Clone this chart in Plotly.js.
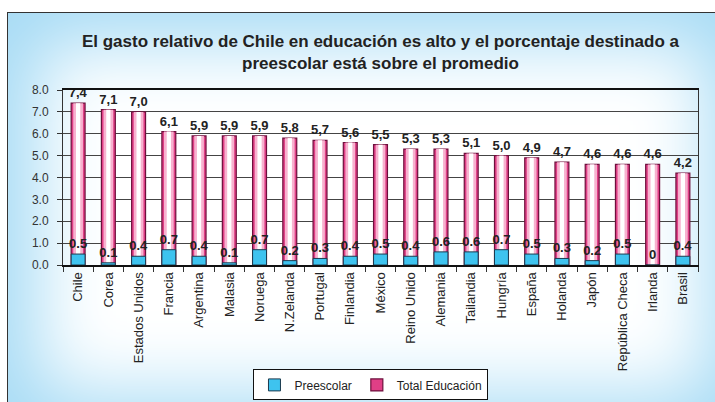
<!DOCTYPE html>
<html>
<head>
<meta charset="utf-8">
<script src="https://cdn.plot.ly/plotly-3.0.1.min.js"></script>
<style>
  html, body { margin: 0; padding: 0; background: #fff; }
  #frame {
    position: absolute; left: 7px; top: 12px; width: 730px; height: 410px;
    border: 1px solid #333; background: #fff;
    box-shadow: inset 0 0 75px 30px #a6dbf5;
  }
  #plotDiv { position: absolute; left: 0; top: 0; width: 715px; height: 402px; }
</style>
</head>
<body>
<div id="frame"></div>
<div id="plotDiv"></div>
<script>
// Paises
let paises = ['Chile', 'Corea', 'Estados Unidos', 'Francia', 'Argentina', 'Malasia', 'Noruega',
  'N.Zelanda', 'Portugal', 'Finlandia', 'México', 'Reino Unido', 'Alemania', 'Tailandia',
  'Hungría', 'España', 'Holanda', 'Japón', 'República Checa', 'Irlanda', 'Brasil'];
// Gasto total en educación (% PIB)
let totalEducacion = [7.4, 7.1, 7.0, 6.1, 5.9, 5.9, 5.9, 5.8, 5.7, 5.6, 5.5, 5.3, 5.3, 5.1,
  5.0, 4.9, 4.7, 4.6, 4.6, 4.6, 4.2];
// Gasto en preescolar
let preescolar = [0.5, 0.1, 0.4, 0.7, 0.4, 0.1, 0.7, 0.2, 0.3, 0.4, 0.5, 0.4, 0.6, 0.6,
  0.7, 0.5, 0.3, 0.2, 0.5, 0, 0.4];

let textTotal = totalEducacion.map(v => v.toFixed(1).replace('.', ','));
let textPre = preescolar.map(v => String(v));

let fuente = 'Liberation Sans, Arial, sans-serif';

// Barra total (fondo rosado)
var trace1 = {
    x: paises, y: totalEducacion, type: 'bar', name: 'Total Educación',
    width: 0.46,
    marker: {color: '#e03f86', line: {color: '#6e0f3c', width: 1.2}},
    text: textTotal, textposition: 'outside', cliponaxis: false, constraintext: 'none',
    textfont: {family: fuente, size: 13, color: '#222', weight: 'bold'},
    hoverinfo: 'x+y'
};
// Franjas claras para el efecto de brillo
var trace2 = {
    x: paises, y: totalEducacion, type: 'bar', showlegend: false, width: 0.32,
    marker: {color: '#f7b2cf', line: {width: 0}}, hoverinfo: 'skip'
};
var trace3 = {
    x: paises, y: totalEducacion, type: 'bar', showlegend: false, width: 0.14,
    marker: {color: '#ffffff', line: {width: 0}}, hoverinfo: 'skip'
};
// Preescolar
var trace4 = {
    x: paises, y: preescolar, type: 'bar', name: 'Preescolar',
    width: 0.46,
    marker: {color: '#3ec3ef', line: {color: '#1b3b4f', width: 1}},
    text: textPre, textposition: 'outside', cliponaxis: false, constraintext: 'none',
    textfont: {family: fuente, size: 13, color: '#222', weight: 'bold'},
    hoverinfo: 'x+y'
};

var data = [trace1, trace2, trace3, trace4];
var layout = {
    width: 715, height: 402,
    margin: {l: 63, r: 17, t: 90, b: 137},
    paper_bgcolor: 'rgba(0,0,0,0)', plot_bgcolor: 'rgba(0,0,0,0)',
    font: {family: fuente, color: '#222'},
    title: {
        text: 'El gasto relativo de Chile en educación es alto y el porcentaje destinado a<br>preescolar está sobre el promedio',
        font: {family: fuente, size: 17, color: '#222', weight: 'bold'},
        x: 0.5, xref: 'paper', xanchor: 'center', y: 0.884, yanchor: 'middle'
    },
    barmode: 'overlay',
    xaxis: {
        automargin: false,
        tickangle: -90, tickfont: {size: 13, color: '#222'},
        ticks: 'outside', tickson: 'boundaries', ticklen: 5, tickcolor: '#333',
        showline: true, linecolor: '#111', linewidth: 2, mirror: true,
        showgrid: false, fixedrange: true
    },
    yaxis: {
        automargin: false,
        range: [0, 8], dtick: 1, tickformat: '.1f',
        tickfont: {size: 12, color: '#333'},
        ticks: 'outside', ticklen: 5, tickcolor: '#333', ticklabelstandoff: 6,
        showline: true, linecolor: '#333', linewidth: 1, mirror: true,
        showgrid: true, gridcolor: '#444', gridwidth: 1, zeroline: false,
        fixedrange: true
    },
    showlegend: true,
    legend: {
        orientation: 'h', traceorder: 'reversed',
        xref: 'paper', x: 0.485, xanchor: 'center',
        yref: 'container', y: 0.004, yanchor: 'bottom',
        bgcolor: '#fff', bordercolor: '#111', borderwidth: 1,
        font: {size: 12, color: '#222'}, itemwidth: 30
    }
};
Plotly.newPlot('plotDiv', data, layout, {displayModeBar: false, staticPlot: true});
</script>
</body>
</html>
